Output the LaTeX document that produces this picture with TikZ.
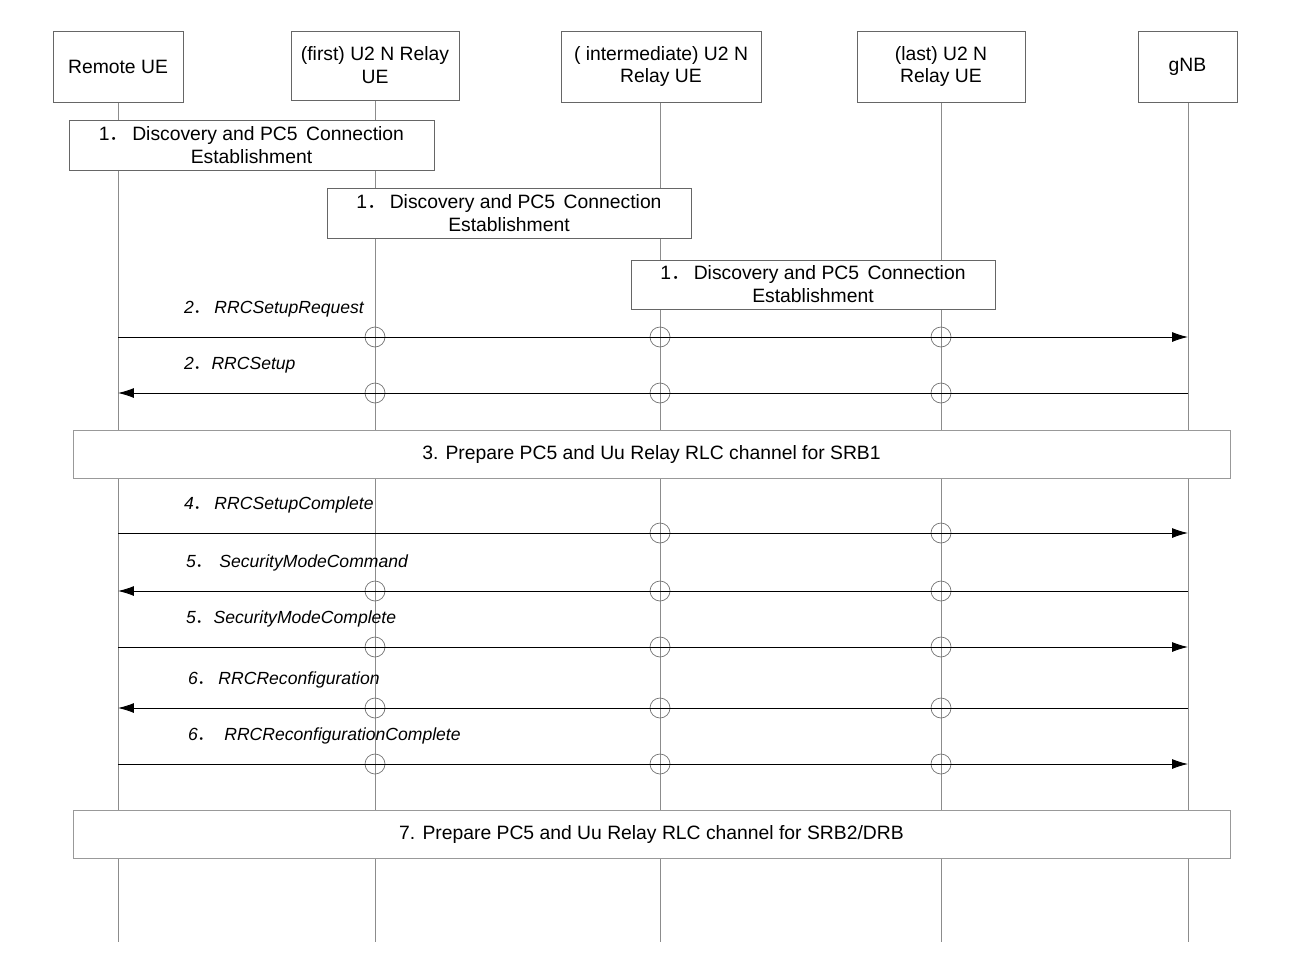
\documentclass[tikz,border=0pt]{standalone}
\usepackage{fontspec}
\setmainfont{Liberation Sans}
\newfontfamily\cjk{Noto Sans CJK SC}
\newcommand{\fp}{{\cjk ．}}
\usetikzlibrary{calc,arrows.meta}
\tikzset{
  hdr/.style={draw=black!60,line width=0.4pt,fill=white,align=center,inner sep=0pt},
  stage/.style={draw=black!60,line width=0.4pt,fill=white,align=center,inner sep=0pt},
  life/.style={draw=black!45,line width=0.4pt},
  msg/.style={draw=black,line width=0.5pt,-{Latex[length=3.2mm,width=2mm]}},
  cross/.style={draw=black!55,line width=0.4pt},
  lbl/.style={anchor=base west,font=\itshape}
}
\begin{document}
\begin{tikzpicture}[x=0.02cm,y=-0.02cm,font=\fontsize{11}{13}\selectfont]
\useasboundingbox (0,0) rectangle (1290,960);

% lifelines
\foreach \n/\x in {re/118,r1/375,r2/660,r3/941,gnb/1188}{
  \coordinate (\n top) at (\x,100);
  \coordinate (\n bot) at (\x,942);
  \draw[life] (\n top) -- (\n bot);
}

% headers
\node[hdr,minimum width=130*0.02cm,minimum height=71*0.02cm] (hre) at (118,66.5) {Remote UE};
\node[hdr,minimum width=168*0.02cm,minimum height=69*0.02cm] (hr1) at (375,65.5) {(first) U2 N Relay\\UE};
\node[hdr,minimum width=200*0.02cm,minimum height=71*0.02cm] (hr2) at (661,66.5) {( intermediate) U2 N\\Relay UE};
\node[hdr,minimum width=168*0.02cm,minimum height=71*0.02cm] (hr3) at (941,66.5) {(last) U2 N\\Relay UE};
\node[hdr,minimum width=99*0.02cm,minimum height=71*0.02cm] (hgnb) at (1187.5,66.5) {gNB};

% discovery boxes
\node[stage,minimum width=365*0.02cm,minimum height=50*0.02cm] (d1) at (251.5,145) {1\fp\,Discovery and PC5 \,Connection\\Establishment};
\node[stage,minimum width=364*0.02cm,minimum height=50*0.02cm] (d2) at (509,213) {1\fp\,Discovery and PC5 \,Connection\\Establishment};
\node[stage,minimum width=364*0.02cm,minimum height=49*0.02cm] (d3) at (813,284.5) {1\fp\,Discovery and PC5 \,Connection\\Establishment};

% RLC preparation
\node[stage,draw=black!40,minimum width=1157*0.02cm,minimum height=48*0.02cm] (p3) at (651.5,454) {3. Prepare PC5 and Uu Relay RLC channel for SRB1};
\node[stage,draw=black!40,minimum width=1157*0.02cm,minimum height=48*0.02cm] (p7) at (651.5,834) {7. Prepare PC5 and Uu Relay RLC channel for SRB2/DRB};

% messages
\foreach \y/\dir/\lab/\lx/\cs in {
  337/r/{2\fp\,RRCSetupRequest}/178/{375,660,941},
  393/l/{2\fp RRCSetup}/178/{375,660,941},
  533/r/{4\fp\,RRCSetupComplete}/178/{660,941},
  591/l/{5\fp\,\,SecurityModeCommand}/180/{375,660,941},
  647/r/{5\fp SecurityModeComplete}/180/{375,660,941},
  708/l/{6\fp\,RRCReconfiguration}/182/{375,660,941},
  764/r/{6\fp\,\,\,RRCReconfigurationComplete}/182/{375,660,941}}{
  \coordinate (ma) at (118,\y);
  \coordinate (mb) at (1188,\y);
  \foreach \cx in \cs { \draw[cross] (\cx,\y) circle (10); }
  \if\dir r \draw[msg] (ma) -- (mb); \else \draw[msg] (mb) -- (ma); \fi
  \node[lbl] (l\y) at (\lx,\y-24) {\lab};
}
\end{tikzpicture}
\end{document}
